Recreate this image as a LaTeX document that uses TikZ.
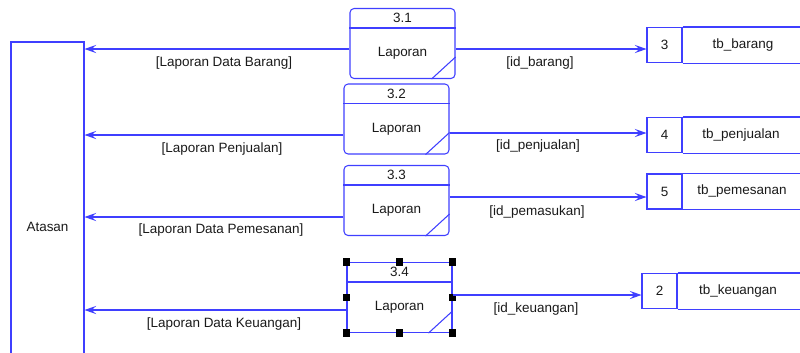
\documentclass[tikz,border=0pt]{standalone}
\usepackage{fontspec}
\setmainfont{Liberation Sans}
\usepackage{tikz}
\usetikzlibrary{arrows.meta}
\definecolor{line}{HTML}{3F3FFF}
\definecolor{ink}{HTML}{1A1A1A}
\tikzset{
  box/.style={draw=line, line width=0.9pt},
  proc/.style={box, minimum width=3.15cm, minimum height=2.1cm, inner sep=0pt},
  ent/.style={box, minimum width=2.19cm, minimum height=11.1cm, text=ink, font=\fontsize{11.5}{13}\selectfont},
  store/.style={box, minimum width=1.05cm, minimum height=1.05cm, inner sep=0pt, text=ink, font=\fontsize{11.5}{13}\selectfont},
  flow/.style={draw=line, line width=0.9pt, -{Stealth[length=10pt,width=7pt,inset=4pt]}},
  handle/.style={fill=black, minimum size=0.23cm, inner sep=0pt},
  lab/.style={text=ink, font=\fontsize{11.5}{13}\selectfont, inner sep=1pt},
}
\begin{document}
\begin{tikzpicture}[x=0.03cm, y=-0.03cm]
  \clip (0,0) rectangle (800,352);

  % external entity
  \node[ent] (atasan) at (47.5,227) {Atasan};

  % processes
  \node[proc, rounded corners=3.5pt] (p1) at (402.5,43.5) {};
  \node[proc, rounded corners=3.5pt] (p2) at (396.5,119) {};
  \node[proc, rounded corners=3.5pt] (p3) at (396.5,200.5) {};
  \node[proc] (p4) at (399.5,297.5) {};
  \foreach \p/\n in {p1/3.1, p2/3.2, p3/3.3, p4/3.4} {
    \draw[box] ([yshift=-0.6cm]\p.north west) -- ([yshift=-0.6cm]\p.north east);
    \draw[box] ([xshift=-0.72cm]\p.south east) -- ([yshift=0.66cm]\p.south east);
    \node[lab] (\p id) at ([yshift=-0.3cm]\p.north) {\n};
    \node[lab] (\p name) at ([yshift=-0.3cm]\p.center) {Laporan};
  }
  \foreach \a [count=\i] in {north west, north, north east, east, south east, south, south west, west}
    \node[handle] (h\i) at (p4.\a) {};

  % data stores
  \node[store] (s3) at (664.5,45) {3};
  \node[store] (s4) at (664.5,135) {4};
  \node[store] (s5) at (664.5,191.5) {5};
  \node[store] (s2) at (659.5,291) {2};
  \foreach \s in {s3, s4, s5, s2} {
    \draw[box] (\s.north east) -- ++(150,0);
    \draw[box] (\s.south east) -- ++(150,0);
  }
  \node[lab] (s3name) at (743,45) {tb\_barang};
  \node[lab] (s4name) at (741,135) {tb\_penjualan};
  \node[lab] (s5name) at (742,191.5) {tb\_pemesanan};
  \node[lab] (s2name) at (738,291) {tb\_keuangan};

  % flows to Atasan
  \draw[flow] (p1.west |- 0,49) -- (atasan.east |- 0,49);
  \draw[flow] (p2.west |- 0,135) -- (atasan.east |- 0,135);
  \draw[flow] (p3.west |- 0,217) -- (atasan.east |- 0,217);
  \draw[flow] (p4.west |- 0,310) -- (atasan.east |- 0,310);
  \node[lab] (l1) at (224,63) {[Laporan Data Barang]};
  \node[lab] (l2) at (222,149) {[Laporan Penjualan]};
  \node[lab] (l3) at (221,230) {[Laporan Data Pemesanan]};
  \node[lab] (l4) at (224,324) {[Laporan Data Keuangan]};

  % flows to stores
  \draw[flow] (p1.east |- 0,49) -- (s3.west |- 0,49);
  \draw[flow] (p2.east |- 0,133) -- (s4.west |- 0,133);
  \draw[flow] (p3.east |- 0,197) -- (s5.west |- 0,197);
  \draw[flow] (p4.east |- 0,295) -- (s2.west |- 0,295);
  \node[lab] (r1) at (540,63) {[id\_barang]};
  \node[lab] (r2) at (538,146) {[id\_penjualan]};
  \node[lab] (r3) at (537,212) {[id\_pemasukan]};
  \node[lab] (r4) at (536,309) {[id\_keuangan]};
\end{tikzpicture}
\end{document}
